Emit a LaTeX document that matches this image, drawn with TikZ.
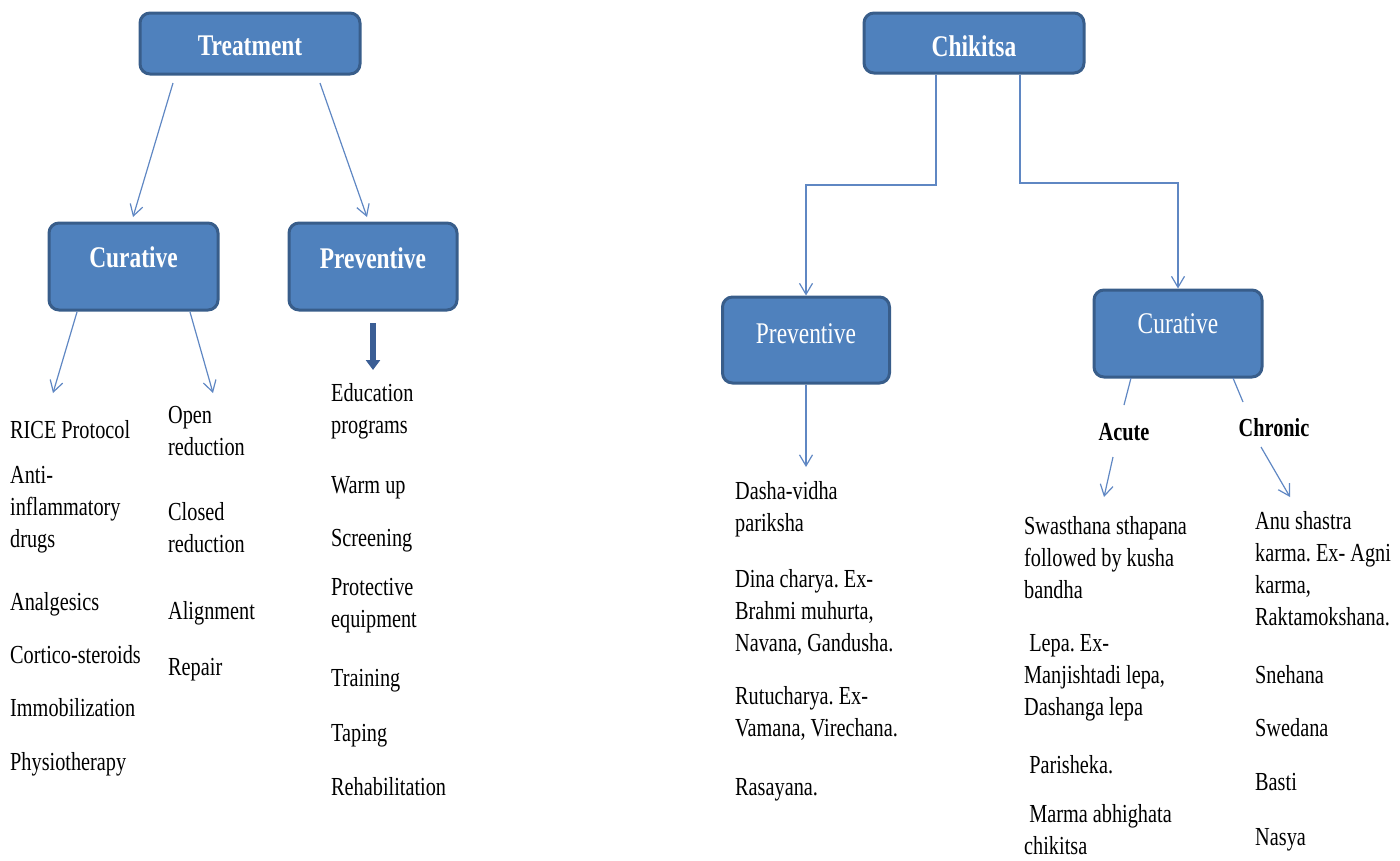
\documentclass[tikz,border=0pt]{standalone}
\usepackage{fontspec}
\setmainfont{Liberation Serif}[FakeStretch=0.78]
\usetikzlibrary{arrows.meta}
\definecolor{boxfill}{RGB}{79,129,189}
\definecolor{boxline}{RGB}{56,93,138}
\definecolor{arrcol}{RGB}{95,135,195}
\definecolor{thickcol}{RGB}{59,94,149}
\frenchspacing
\begin{document}
\begin{tikzpicture}[x=1pt,y=-1pt,
  box/.style={draw=boxline, line width=3pt, fill=boxfill, rounded corners=10pt,
    text=white, inner sep=0pt, font=\fontsize{30}{34}\selectfont},
  item/.style={anchor=north west, align=left, inner sep=0pt,
    font=\fontsize{26}{32}\selectfont\frenchspacing, execute at begin node=\strut},
  sublabel/.style={inner sep=0pt, font=\fontsize{26}{32}\selectfont\bfseries},
  arr/.style={draw=arrcol, line width=1.2pt, -{Straight Barb[length=11pt,width=13pt]}},
  ln/.style={draw=arrcol, line width=1.2pt},
  bigarrow/.style={draw=thickcol, line width=5.5pt, -{Triangle[length=10pt,width=14pt]}}
]
\useasboundingbox (0,0) rectangle (1400,860);

% ---------- left tree ----------
\node[box, minimum width=220pt, minimum height=61pt, text height=23pt, text depth=0pt,
  font=\fontsize{30}{34}\selectfont\bfseries] (tr) at (250,43.5) {Treatment};
\node[box, minimum width=169pt, minimum height=87pt, text height=20pt, text depth=19pt,
  font=\fontsize{30}{34}\selectfont\bfseries] (lc) at (133.5,266.5) {Curative};
\node[box, minimum width=168pt, minimum height=87pt, text height=20pt, text depth=17pt,
  font=\fontsize{30}{34}\selectfont\bfseries] (lp) at (373,266.5) {Preventive};

\coordinate (t1s) at (173,83);  \coordinate (t1e) at (133,217);
\coordinate (t2s) at (320,83);  \coordinate (t2e) at (367,217);
\coordinate (c1s) at (77,312);  \coordinate (c1e) at (53,393);
\coordinate (c2s) at (190,312); \coordinate (c2e) at (213,393);
\coordinate (p1s) at (373,323); \coordinate (p1e) at (373,370);
\draw[arr] (t1s) -- (t1e);
\draw[arr] (t2s) -- (t2e);
\draw[arr] (c1s) -- (c1e);
\draw[arr] (c2s) -- (c2e);
\draw[bigarrow] (p1s) -- (p1e);

\node[item] (a1) at (10,416) {RICE Protocol};
\node[item] (a2) at (10,466) {Anti-\\inflammatory\\drugs};
\node[item] (a3) at (10,588) {Analgesics};
\node[item] (a4) at (10,641) {Cortico-steroids};
\node[item] (a5) at (10,694) {Immobilization};
\node[item] (a6) at (10,748) {Physiotherapy};

\node[item] (b1) at (168,406) {Open\\reduction};
\node[item] (b2) at (168,502) {Closed\\reduction};
\node[item] (b3) at (168,597) {Alignment};
\node[item] (b4) at (168,653) {Repair};

\node[item] (d1) at (331,383) {Education\\programs};
\node[item] (d2) at (331,471) {Warm up};
\node[item] (d3) at (331,524) {Screening};
\node[item] (d4) at (331,578) {Protective\\equipment};
\node[item] (d5) at (331,664) {Training};
\node[item] (d6) at (331,719) {Taping};
\node[item] (d7) at (331,773) {Rehabilitation};

% ---------- right tree ----------
\node[box, minimum width=220pt, minimum height=60pt, text height=26pt, text depth=0pt,
  font=\fontsize{30}{34}\selectfont\bfseries] (ch) at (974,43) {Chikitsa};
\node[box, minimum width=167pt, minimum height=86pt, text height=20pt, text depth=14pt] (rp) at (806,340) {Preventive};
\node[box, minimum width=168pt, minimum height=87pt, text height=20pt, text depth=21pt] (rc) at (1178,333.5) {Curative};

\coordinate (k1) at (936,185);
\coordinate (k2) at (1020,183);
\draw[arr] (ch.south -| k1) -- (k1) -| (rp.north);
\draw[arr] (ch.south -| k2) -- (k2) -| (rc.north);

\coordinate (r1e) at (806,467);
\draw[arr] (rp.south) -- (r1e);

\node[sublabel] (acute) at (1124,432) {Acute};
\node[sublabel] (chronic) at (1274,428) {Chronic};
\coordinate (q1s) at (1131,378); \coordinate (q1e) at (1124,405);
\coordinate (q2s) at (1233,378); \coordinate (q2e) at (1243,402);
\draw[ln] (q1s) -- (q1e);
\draw[ln] (q2s) -- (q2e);
\coordinate (s1s) at (1113,457); \coordinate (s1e) at (1104,497);
\coordinate (s2s) at (1261,447); \coordinate (s2e) at (1290,497);
\draw[arr] (s1s) -- (s1e);
\draw[arr] (s2s) -- (s2e);

\node[item] (e1) at (735,481) {Dasha-vidha\\pariksha};
\node[item] (e2) at (735,569) {Dina charya. Ex-\\Brahmi muhurta,\\Navana, Gandusha.};
\node[item] (e3) at (735,686) {Rutucharya. Ex-\\Vamana, Virechana.};
\node[item] (e4) at (735,773) {Rasayana.};

\node[item] (f1) at (1024,516) {Swasthana sthapana\\followed by kusha\\bandha};
\node[item] (f2) at (1024,634) {\ Lepa. Ex-\\Manjishtadi lepa,\\Dashanga lepa};
\node[item] (f3) at (1024,751) {\ Parisheka.};
\node[item] (f4) at (1024,804) {\ Marma abhighata\\chikitsa};

\node[item] (g1) at (1255,511) {Anu shastra\\karma. Ex- Agni\\karma,\\Raktamokshana.};
\node[item] (g2) at (1255,661) {Snehana};
\node[item] (g3) at (1255,714) {Swedana};
\node[item] (g4) at (1255,768) {Basti};
\node[item] (g5) at (1255,823) {Nasya};
\end{tikzpicture}
\end{document}
